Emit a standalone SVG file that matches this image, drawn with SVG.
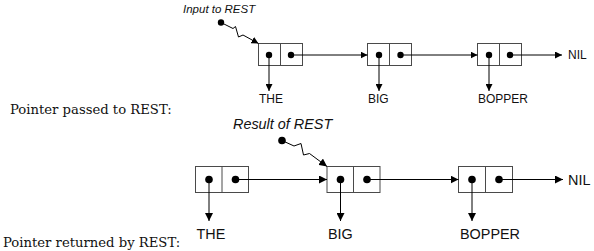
<svg xmlns="http://www.w3.org/2000/svg" width="594" height="251" viewBox="0 0 594 251">
  <defs>
    <style>
      .cell { fill: #ffffff; stroke: #4a4a4a; stroke-width: 1; }
      .div { stroke: #4a4a4a; stroke-width: 1; }
      .dot { fill: #000000; }
      .link { fill: none; stroke: #000000; stroke-width: 1; }
      .sym { font-family: "Liberation Sans", Arial, sans-serif; fill: #111111; }
      .note { font-family: "Liberation Sans", Arial, sans-serif; font-style: italic; fill: #111111; }
      .caption { font-family: "DejaVu Serif", serif; font-size: 13.2px; fill: #111111; }
    </style>
    <marker id="tip" viewBox="0 0 8 8" refX="8" refY="4" markerWidth="7" markerHeight="7" markerUnits="userSpaceOnUse" orient="auto">
      <path d="M0,0 L8,4 L0,8 Z" fill="#000000"/>
    </marker>
    <marker id="tipL" viewBox="0 0 8 8" refX="8" refY="4" markerWidth="8" markerHeight="8" markerUnits="userSpaceOnUse" orient="auto">
      <path d="M0,0 L8,4 L0,8 Z" fill="#000000"/>
    </marker>
  </defs>

  <rect width="594" height="251" fill="#ffffff"/>

  <!-- captions -->
  <text class="caption" x="10" y="114">Pointer passed to REST:</text>
  <text class="caption" x="3" y="247">Pointer returned by REST:</text>

  <!-- upper list: argument of REST -->
  <g id="in-cell-the">
    <rect class="cell" x="258.5" y="43.5" width="44" height="22"/>
    <line class="div" x1="280.5" y1="43.5" x2="280.5" y2="65.5"/>
    <circle class="dot" cx="269" cy="55" r="3.2"/>
    <circle class="dot" cx="291" cy="55" r="3.2"/>
  </g>
  <g id="in-cell-big">
    <rect class="cell" x="367.5" y="43.5" width="44" height="22"/>
    <line class="div" x1="389.5" y1="43.5" x2="389.5" y2="65.5"/>
    <circle class="dot" cx="379" cy="55" r="3.2"/>
    <circle class="dot" cx="400.5" cy="55" r="3.2"/>
  </g>
  <g id="in-cell-bopper">
    <rect class="cell" x="477.5" y="43.5" width="44" height="22"/>
    <line class="div" x1="499.5" y1="43.5" x2="499.5" y2="65.5"/>
    <circle class="dot" cx="489" cy="55" r="3.2"/>
    <circle class="dot" cx="510" cy="55" r="3.2"/>
  </g>
  <g id="in-atoms" class="sym" font-size="12">
    <text x="259" y="103">THE</text>
    <text x="368" y="103">BIG</text>
    <text x="478" y="103">BOPPER</text>
    <text x="568" y="59">NIL</text>
  </g>
  <g id="in-pointer">
    <text class="note" font-size="11.5" x="183" y="13">Input to REST</text>
    <circle class="dot" cx="221" cy="22.5" r="3.2"/>
  </g>

  <!-- lower list: value of REST -->
  <g id="out-cell-the">
    <rect class="cell" x="195.5" y="166.5" width="53" height="26"/>
    <line class="div" x1="222" y1="166.5" x2="222" y2="192.5"/>
    <circle class="dot" cx="209" cy="179.5" r="3.8"/>
    <circle class="dot" cx="235.5" cy="179.5" r="3.8"/>
  </g>
  <g id="out-cell-big">
    <rect class="cell" x="327" y="166.5" width="53" height="26"/>
    <line class="div" x1="353.5" y1="166.5" x2="353.5" y2="192.5"/>
    <circle class="dot" cx="340.5" cy="179.5" r="3.8"/>
    <circle class="dot" cx="367" cy="179.5" r="3.8"/>
  </g>
  <g id="out-cell-bopper">
    <rect class="cell" x="458.5" y="166.5" width="54" height="26"/>
    <line class="div" x1="485.5" y1="166.5" x2="485.5" y2="192.5"/>
    <circle class="dot" cx="472" cy="179.5" r="3.8"/>
    <circle class="dot" cx="499" cy="179.5" r="3.8"/>
  </g>
  <g id="out-atoms" class="sym" font-size="14.4">
    <text x="196.5" y="239">THE</text>
    <text x="328" y="239">BIG</text>
    <text x="460" y="239">BOPPER</text>
    <text x="568" y="184.5">NIL</text>
  </g>
  <g id="out-pointer">
    <text class="note" font-size="14.4" x="233" y="128.5">Result of REST</text>
    <circle class="dot" cx="282" cy="140.5" r="3.8"/>
  </g>

  <!-- connectors -->
  <g id="connectors">
    <!-- upper list -->
    <path class="link" d="M221,22.5 L233,28.5 L235.5,26.5 L238.5,37 L243,35 L258.5,43.5" marker-end="url(#tip)"/>
    <line class="link" x1="291" y1="55" x2="367.5" y2="55" marker-end="url(#tip)"/>
    <line class="link" x1="400.5" y1="55" x2="477.5" y2="55" marker-end="url(#tip)"/>
    <line class="link" x1="510" y1="55" x2="562" y2="55" marker-end="url(#tip)"/>
    <line class="link" x1="269" y1="55" x2="269" y2="91" marker-end="url(#tip)"/>
    <line class="link" x1="379" y1="55" x2="379" y2="91" marker-end="url(#tip)"/>
    <line class="link" x1="489" y1="55" x2="489" y2="91" marker-end="url(#tip)"/>
    <!-- lower list -->
    <path class="link" d="M282,140.5 L294,146 L301,143.5 L303.5,155 L309.5,153.5 L327,166.5" marker-end="url(#tipL)"/>
    <line class="link" x1="235.5" y1="179.5" x2="327" y2="179.5" marker-end="url(#tipL)"/>
    <line class="link" x1="367" y1="179.5" x2="458.5" y2="179.5" marker-end="url(#tipL)"/>
    <line class="link" x1="499" y1="179.5" x2="563" y2="179.5" marker-end="url(#tipL)"/>
    <line class="link" x1="209" y1="179.5" x2="209" y2="221" marker-end="url(#tipL)"/>
    <line class="link" x1="340.5" y1="179.5" x2="340.5" y2="221" marker-end="url(#tipL)"/>
    <line class="link" x1="472" y1="179.5" x2="472" y2="221" marker-end="url(#tipL)"/>
  </g>
</svg>
